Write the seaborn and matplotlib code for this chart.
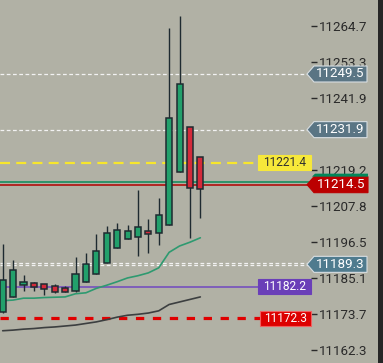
import numpy as np
import pandas as pd
import matplotlib
matplotlib.use('Agg')
import matplotlib.pyplot as plt
import matplotlib.transforms as mtransforms
from matplotlib.patches import Polygon, Rectangle
import seaborn as sns

# --- DATA ---
opens  = [11174.2, 11178.9, 11182.8, 11183.3, 11183.0, 11182.4, 11181.7, 11180.9, 11183.6, 11186.4,
          11189.6, 11194.4, 11197.2, 11198.0, 11199.7, 11199.1, 11201.9, 11218.4, 11232.6, 11223.1]
highs  = [11195.7, 11190.6, 11185.9, 11183.8, 11183.0, 11183.1, 11182.4, 11191.7, 11192.8, 11198.9,
          11201.4, 11202.5, 11201.7, 11212.8, 11203.6, 11210.3, 11264.1, 11267.9, 11232.6, 11223.1]
lows   = [11174.0, 11178.9, 11180.9, 11180.9, 11179.6, 11180.1, 11180.4, 11180.6, 11183.6, 11186.4,
          11189.6, 11194.4, 11197.2, 11192.0, 11193.0, 11195.4, 11201.9, 11218.4, 11197.7, 11204.0]
closes = [11184.3, 11187.5, 11183.6, 11182.2, 11181.4, 11180.6, 11180.6, 11186.1, 11189.4, 11193.4,
          11199.1, 11200.1, 11199.7, 11201.0, 11198.8, 11204.8, 11235.5, 11246.3, 11213.3, 11213.0]

ma_fast = [11177.8, 11178.0, 11178.6, 11178.6, 11178.8, 11178.9, 11179.0, 11180.0, 11180.3, 11181.7,
           11182.7, 11183.8, 11185.0, 11185.7, 11186.6, 11188.2, 11193.1, 11195.1, 11196.3, 11197.7]
ma_slow = [11168.3, 11168.5, 11168.8, 11169.0, 11169.3, 11169.5, 11169.8, 11170.1, 11170.6, 11171.1,
           11171.8, 11172.6, 11173.2, 11173.5, 11173.9, 11174.6, 11176.6, 11177.4, 11178.2, 11179.0]

tick_values = [11264.7, 11253.3, 11241.9, 11219.2, 11207.8, 11196.5, 11185.1, 11173.7, 11162.3]

level_white = [11249.5, 11231.9]
level_white_double = 11189.3
level_yellow = 11221.4
level_green = 11215.2
level_last = 11214.5
level_purple = 11182.2
level_red_dash = 11172.3

df = pd.DataFrame({'open': opens, 'high': highs, 'low': lows, 'close': closes,
                   'ma_fast': ma_fast, 'ma_slow': ma_slow})
df['idx'] = np.arange(len(df))

# --- STYLE ---
bg = '#b1b1a5'
sns.set_style('white', {'axes.facecolor': bg, 'figure.facecolor': bg})
plt.rcParams['font.family'] = ['Roboto', 'DejaVu Sans']

W, H = 383, 363
fig = plt.figure(figsize=(W / 100, H / 100), dpi=100)
ax = fig.add_axes([0, 0, 311 / W, 1])

# --- CANDLES ---
up = df['close'] >= df['open']
body_w = 0.58
edge = '#1e2a30'
ax.vlines(df['idx'], df['low'], df['high'], color=edge, lw=1.0, zorder=3)
ax.bar(df['idx'], (df['close'] - df['open']).abs(), bottom=df[['open', 'close']].min(axis=1),
       width=body_w, color=np.where(up, '#22a06b', '#d42a3a'), edgecolor=edge, lw=1.1, zorder=4)

# --- MOVING AVERAGES ---
sns.lineplot(data=df, x='idx', y='ma_fast', ax=ax, color='#2e9a70', lw=1.2, zorder=3)
sns.lineplot(data=df, x='idx', y='ma_slow', ax=ax, color='#3c3f40', lw=1.2, zorder=3)

# --- HORIZONTAL LEVELS ---
for lv in level_white:
    ax.axhline(lv, color='#f2f2f2', lw=0.9, ls=(0, (3, 2)), zorder=2)
for off in (-0.35, 0.35):
    ax.axhline(level_white_double + off, color='#f2f2f2', lw=0.9, ls=(0, (3, 2)), zorder=2)
ax.axhline(level_yellow, color='#f7e62c', lw=1.6, ls=(0, (4.5, 2.8)), zorder=2)
ax.axhline(level_green, color='#0a8a5a', lw=1.1, zorder=2)
ax.axhline(level_last, color='#b00000', lw=1.1, zorder=2)
ax.axhline(level_purple, color='#7048c0', lw=1.1, zorder=2)
ax.axhline(level_red_dash, color='#e00000', lw=2.3, ls=(0, (2.6, 2.7)), zorder=2)

ax.set_xlim(-0.26, 29.64)
ax.set_ylim(11158.1, 11272.9)
ax.set_xlabel('')
ax.set_ylabel('')
ax.set_xticks([])
ax.yaxis.tick_right()
ax.set_yticks(tick_values)
ax.set_yticklabels([f'{v:.1f}' for v in tick_values])
ax.tick_params(axis='y', direction='out', length=4, width=1, color='#2a2a2a',
               labelcolor='#2a2a2a', labelsize=9.6, pad=2)
sns.despine(ax=ax, left=True, bottom=True, top=True, right=True)

# --- PRICE TAGS ---
tr = mtransforms.blended_transform_factory(fig.transFigure, ax.transData)
px = 3.16  # pixels per price unit


def tag(y, text, face, tcolor, x0, x1, arrow=0, hh=8, ecolor=None, fs=9.6, top=None):
    h = hh / px
    a = x0 + arrow
    pts = [(a, y + h), (x1, y + h), (x1, y - h), (a, y - h)]
    if arrow:
        pts.append((x0, y))
    pts = [(p[0] / W, p[1]) for p in pts]
    ax.add_patch(Polygon(pts, closed=True, transform=tr, facecolor=face,
                         edgecolor=ecolor or face, lw=0.8, clip_on=False, zorder=6))
    if top:
        ax.add_patch(Polygon([((a - 2) / W, y + h), ((a + 1) / W, y + h + 3 / px),
                              (x1 / W, y + h + 3 / px), (x1 / W, y + h)],
                             closed=True, transform=tr, facecolor=top, edgecolor=top,
                             lw=0, clip_on=False, zorder=6))
    ax.text((a + x1) / 2 / W, y, text, transform=tr, color=tcolor, fontsize=fs,
            ha='center', va='center', clip_on=False, zorder=7)


for lv in level_white:
    tag(lv, f'{lv:.1f}', '#5a7584', 'white', 307, 367, arrow=7, hh=8, ecolor='#d8dee2')
tag(level_white_double, f'{level_white_double:.1f}', '#4f7b8e', 'white', 307, 367, arrow=7, hh=8,
    ecolor='#d8dee2')
tag(level_last, f'{level_last:.1f}', '#bb0000', 'white', 307, 368, arrow=7, hh=8, top='#00875a')
tag(level_yellow, f'{level_yellow:.1f}', '#f7e83a', '#303030', 258, 311, hh=7.5, fs=8.6)
tag(level_purple, f'{level_purple:.1f}', '#6a3fb8', 'white', 258, 311, hh=7.5, fs=8.6)
tag(level_red_dash, f'{level_red_dash:.1f}', '#dd0000', 'white', 260, 311, hh=7.5, fs=8.6,
    ecolor='#f06060')

# dark strip at the right edge
fig.add_artist(Rectangle((378 / W, 0), 5 / W, 1, transform=fig.transFigure,
                         facecolor='#262626', edgecolor='none'))

fig.savefig('out.png', dpi=100)
